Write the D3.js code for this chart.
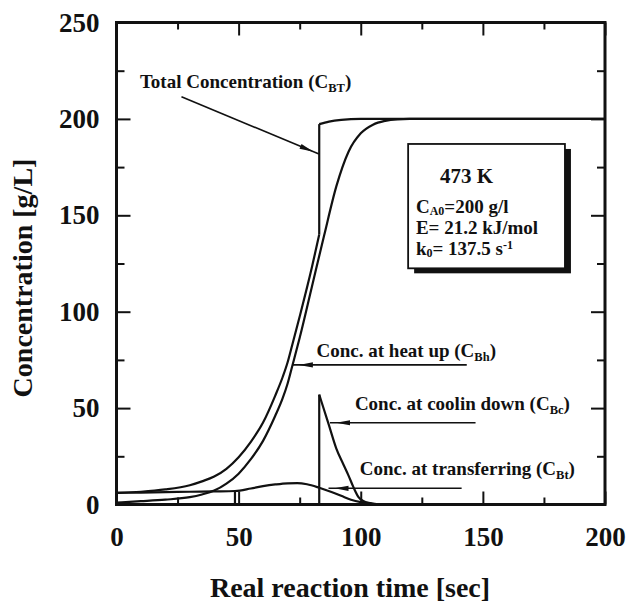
<!DOCTYPE html>
<html>
<head>
<meta charset="utf-8">
<script src="https://cdn.jsdelivr.net/npm/d3@7/dist/d3.min.js"></script>
<style>
  html, body { margin: 0; padding: 0; background: #fff; }
  svg { display: block; }
  text { font-family: "Liberation Serif", "Times New Roman", serif; font-weight: bold; fill: #111; }
</style>
</head>
<body>
<svg id="chart" width="629" height="602"></svg>
<script>
// ---- data ----
const xTicks = [0, 50, 100, 150, 200];
const xMinor = [25, 75, 125, 175];
const yTicks = [0, 50, 100, 150, 200, 250];
const yMinor = [25, 75, 125, 175, 225];

// Conc. at heat up (C_Bh)
const timeHeat = [0, 10, 20, 30, 35, 40, 45, 50, 55, 60, 65, 68, 70, 72, 75, 80, 85, 90, 95, 100, 105, 110, 115, 120, 200];
const heatUp   = [1, 1.7, 2.5, 3.8, 5.2, 7.2, 10.8, 16, 23.5, 33, 46, 55, 62.5, 72, 86.5, 113, 139.5, 165, 183, 192.5, 197, 199, 199.8, 200, 200];

// Total concentration (C_BT), before and after the jump at t = 83 s
const timeTotalA = [0, 10, 20, 30, 35, 40, 45, 50, 55, 60, 65, 68, 70, 72, 75, 80, 83];
const totalA     = [6, 6.6, 7.8, 10, 12, 14.5, 18.5, 24.5, 32.5, 42.5, 56.5, 66, 73.5, 83, 97.5, 123, 140];
const timeTotalB = [83, 87, 92, 100, 200];
const totalB     = [197.3, 198.6, 199.5, 200, 200];

// Conc. at coolin down (C_Bc)
const timeCool = [83, 85, 87, 90, 93, 95, 97, 99, 101, 104, 108];
const coolDown = [57, 49, 41, 29, 20.5, 15, 9, 4, 1.8, 0.7, 0];

// Conc. at transferring (C_Bt)
const timeTrans = [0, 10, 20, 30, 40, 48.5, 55, 60, 65, 70, 74, 78, 83, 88, 92, 96, 100, 104, 108];
const transfer  = [6, 6.2, 6.4, 6.6, 6.8, 7, 8.3, 9.5, 10.4, 11, 11.1, 10.5, 8.7, 6.5, 4.5, 2.5, 1.2, 0.4, 0];
const transferMarkTime = 48.5;

// ---- layout ----
const svg = d3.select("#chart");
const L = 116.5, R = 605, T = 22.5, B = 504.5;
const x = d3.scaleLinear().domain([0, 200]).range([L, R]);
const y = d3.scaleLinear().domain([0, 250]).range([B, T]);

const zip = (ts, vs) => ts.map((t, i) => [t, vs[i]]);
const line = d3.line().x(d => x(d[0])).y(d => y(d[1])).curve(d3.curveMonotoneX);
const straight = d3.line().x(d => x(d[0])).y(d => y(d[1]));

const gCurves = svg.append("g").attr("fill", "none").attr("stroke", "#111").attr("stroke-width", 2.2);
gCurves.append("path").attr("d", line(zip(timeHeat, heatUp)));
gCurves.append("path").attr("d", line(zip(timeTotalA, totalA)));
gCurves.append("path").attr("d", straight([[83, totalA[totalA.length - 1]], [83, totalB[0]]]));
gCurves.append("path").attr("d", line(zip(timeTotalB, totalB)));
gCurves.append("path").attr("d", straight([[timeCool[0], 0], [timeCool[0], coolDown[0]]]));
gCurves.append("path").attr("d", line(zip(timeCool, coolDown)));
gCurves.append("path").attr("d", line(zip(timeTrans, transfer)));
gCurves.append("path").attr("d", straight([[transferMarkTime, 0], [transferMarkTime, transfer[timeTrans.indexOf(transferMarkTime)]]]));

// ---- axes ----
function styleAxis(g) {
  g.select(".domain").remove();
  g.selectAll(".tick line").attr("stroke", "#111").attr("stroke-width", 2);
  g.selectAll(".tick text").style("font-size", "27px").style("font-family", "Liberation Serif, serif").style("font-weight", "bold").attr("fill", "#111");
}
svg.append("g").attr("transform", `translate(${L},0)`)
  .call(d3.axisLeft(y).tickValues(yTicks).tickSize(-14).tickPadding(17).tickFormat(d3.format("d"))).call(styleAxis);
svg.append("g").attr("transform", `translate(${L},0)`)
  .call(d3.axisLeft(y).tickValues(yMinor).tickSize(-8).tickFormat("")).call(styleAxis);
svg.append("g").attr("transform", `translate(${R},0)`)
  .call(d3.axisRight(y).tickValues(yTicks).tickSize(-14).tickFormat("")).call(styleAxis);
svg.append("g").attr("transform", `translate(${R},0)`)
  .call(d3.axisRight(y).tickValues(yMinor).tickSize(-8).tickFormat("")).call(styleAxis);
svg.append("g").attr("transform", `translate(0,${B})`)
  .call(d3.axisBottom(x).tickValues(xTicks).tickSize(-13).tickPadding(22).tickFormat(d3.format("d"))).call(styleAxis);
svg.append("g").attr("transform", `translate(0,${B})`)
  .call(d3.axisBottom(x).tickValues(xMinor).tickSize(-7).tickFormat("")).call(styleAxis);
svg.append("g").attr("transform", `translate(0,${T})`)
  .call(d3.axisTop(x).tickValues(xTicks).tickSize(-13).tickFormat("")).call(styleAxis);
svg.append("g").attr("transform", `translate(0,${T})`)
  .call(d3.axisTop(x).tickValues(xMinor).tickSize(-7).tickFormat("")).call(styleAxis);

// frame
svg.append("rect").attr("x", L).attr("y", T).attr("width", R - L).attr("height", B - T)
  .attr("fill", "none").attr("stroke", "#111").attr("stroke-width", 3);

// axis titles
svg.append("text").attr("x", 350).attr("y", 597).attr("text-anchor", "middle")
  .style("font-size", "28px").text("Real reaction time [sec]");
svg.append("text").attr("transform", "translate(32,278) rotate(-90)").attr("text-anchor", "middle")
  .style("font-size", "28px").text("Concentration [g/L]");

// ---- annotations ----
function label(tx, ty, main, sub, tail) {
  const t = svg.append("text").attr("x", x(tx)).attr("y", y(ty)).style("font-size", "19px");
  t.append("tspan").text(main);
  t.append("tspan").attr("dy", 4).style("font-size", "12.5px").text(sub);
  t.append("tspan").attr("dy", -4).text(tail);
}
function arrow(t0, v0, t1, v1) {
  const x0 = x(t0), y0 = y(v0), x1 = x(t1), y1 = y(v1);
  svg.append("line").attr("x1", x0).attr("y1", y0).attr("x2", x1).attr("y2", y1)
    .attr("stroke", "#111").attr("stroke-width", 1.6);
  const ang = Math.atan2(y1 - y0, x1 - x0);
  const off = 6, len = 14, hw = 2.6;
  const tx = x1 - off * Math.cos(ang), ty = y1 - off * Math.sin(ang);
  const bx = tx - len * Math.cos(ang), by = ty - len * Math.sin(ang);
  const nx = -Math.sin(ang) * hw, ny = Math.cos(ang) * hw;
  svg.append("path").attr("d", `M${tx},${ty}L${bx + nx},${by + ny}L${bx - nx},${by - ny}Z`).attr("fill", "#111");
}

label(9.6, 216, "Total Concentration (C", "BT", ")");
arrow(26.6, 211.5, 82.9, 181.8);

label(81.9, 76.7, "Conc. at heat up (C", "Bh", ")");
arrow(143.4, 72.4, 72.2, 72.4);

label(97.6, 49, "Conc. at coolin down (C", "Bc", ")");
arrow(147, 42.4, 87.4, 42.4);

label(99.6, 15.3, "Conc. at transferring (C", "Bt", ")");
arrow(141.3, 8.4, 86.8, 8.4);

// ---- parameter box ----
const bx0 = x(119.4), by0 = y(187), bx1 = x(183.6), by1 = y(122.5);
svg.append("rect").attr("x", bx0 + 6).attr("y", by0 + 5).attr("width", bx1 - bx0).attr("height", by1 - by0).attr("fill", "#111");
svg.append("rect").attr("x", bx0).attr("y", by0).attr("width", bx1 - bx0).attr("height", by1 - by0)
  .attr("fill", "#fff").attr("stroke", "#111").attr("stroke-width", 1.8);

svg.append("text").attr("x", x(132.4)).attr("y", y(166.7)).style("font-size", "21px").text("473 K");
function boxLine(v, main, sub, rest, sup) {
  const t = svg.append("text").attr("x", x(122.6)).attr("y", y(v)).style("font-size", "19px");
  t.append("tspan").text(main);
  t.append("tspan").attr("dy", 2).style("font-size", "12px").text(sub);
  t.append("tspan").attr("dy", -2).text(rest);
  if (sup) t.append("tspan").attr("dy", -6).style("font-size", "12px").text(sup);
}
boxLine(151.2, "C", "A0", "=200 g/l");
boxLine(140.3, "E= 21.2 kJ/mol", "", "");
boxLine(129.4, "k", "0", "= 137.5 s", "-1");
</script>
</body>
</html>
